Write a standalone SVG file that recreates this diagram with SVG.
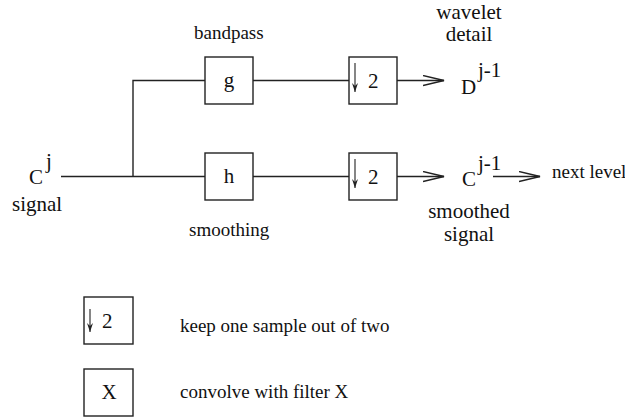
<svg xmlns="http://www.w3.org/2000/svg" width="625" height="419" viewBox="0 0 625 419">
<defs>
<style>
.box{fill:#fff;stroke:#222;stroke-width:1.4}
.ln{fill:none;stroke:#222;stroke-width:1.4}
.dn{fill:none;stroke:#222;stroke-width:1.1}
.t{font-family:"Liberation Serif","Times New Roman",serif;fill:#111;font-size:21px}
.s{font-family:"Liberation Serif","Times New Roman",serif;fill:#111;font-size:19px}
.c{text-anchor:middle}
</style>
<marker id="open" markerWidth="22" markerHeight="12" refX="21" refY="6" orient="auto" markerUnits="userSpaceOnUse">
<path d="M0,1 L21,6 L0,11" fill="none" stroke="#222" stroke-width="1.4"/>
</marker>
<marker id="down" markerWidth="10" markerHeight="6" refX="9" refY="3" orient="auto" markerUnits="userSpaceOnUse">
<path d="M0,0 L9,3 L0,6 L3,3 Z" fill="#222"/>
</marker>
</defs>
<g id="connectors">
<path class="ln" d="M61,176.5 H205"/>
<path class="ln" d="M133,176.5 V80.5 H205"/>
<path class="ln" d="M253,80.5 H349"/>
<path class="ln" d="M253,176.5 H349"/>
<path class="ln" d="M397,80.5 H444" marker-end="url(#open)"/>
<path class="ln" d="M397,176.5 H444" marker-end="url(#open)"/>
<path class="ln" d="M493,176.5 H540" marker-end="url(#open)"/>
</g>
<g id="input">
<text class="t" x="29" y="184">C</text>
<text class="t" x="46" y="168">j</text>
<text class="t" x="12" y="211">signal</text>
</g>
<g id="filter-g">
<rect class="box" x="205" y="57" width="48" height="47"/>
<text class="t c" x="229" y="87">g</text>
<text class="s" x="194" y="39">bandpass</text>
</g>
<g id="filter-h">
<rect class="box" x="205" y="153" width="48" height="47"/>
<text class="t c" x="229" y="183">h</text>
<text class="s" x="189" y="236">smoothing</text>
</g>
<g id="down-top">
<rect class="box" x="349" y="57" width="48" height="47"/>
<path class="dn" d="M355,63 V92" marker-end="url(#down)"/>
<text class="t" x="368" y="88">2</text>
</g>
<g id="down-bottom">
<rect class="box" x="349" y="153" width="48" height="47"/>
<path class="dn" d="M355,159 V188" marker-end="url(#down)"/>
<text class="t" x="368" y="184">2</text>
</g>
<g id="detail">
<text class="t c" x="469" y="19">wavelet</text>
<text class="t c" x="469" y="41">detail</text>
<text class="t" x="461" y="94">D</text>
<text class="t" x="478" y="77">j-1</text>
</g>
<g id="smoothed">
<text class="t" x="462" y="186">C</text>
<text class="t" x="478" y="170">j-1</text>
<text class="t c" x="469" y="218">smoothed</text>
<text class="t c" x="469" y="241">signal</text>
</g>
<g id="next">
<text class="s" x="552" y="178">next level</text>
</g>
<g id="legend-down">
<rect class="box" x="84" y="297" width="49" height="47"/>
<path class="dn" d="M90,309 V332" marker-end="url(#down)"/>
<text class="t" x="102" y="328">2</text>
<text class="s" x="180" y="332">keep one sample out of two</text>
</g>
<g id="legend-filter">
<rect class="box" x="84" y="369" width="49" height="47"/>
<text class="t c" x="109" y="399">X</text>
<text class="s" x="180" y="398">convolve with filter X</text>
</g>
</svg>
